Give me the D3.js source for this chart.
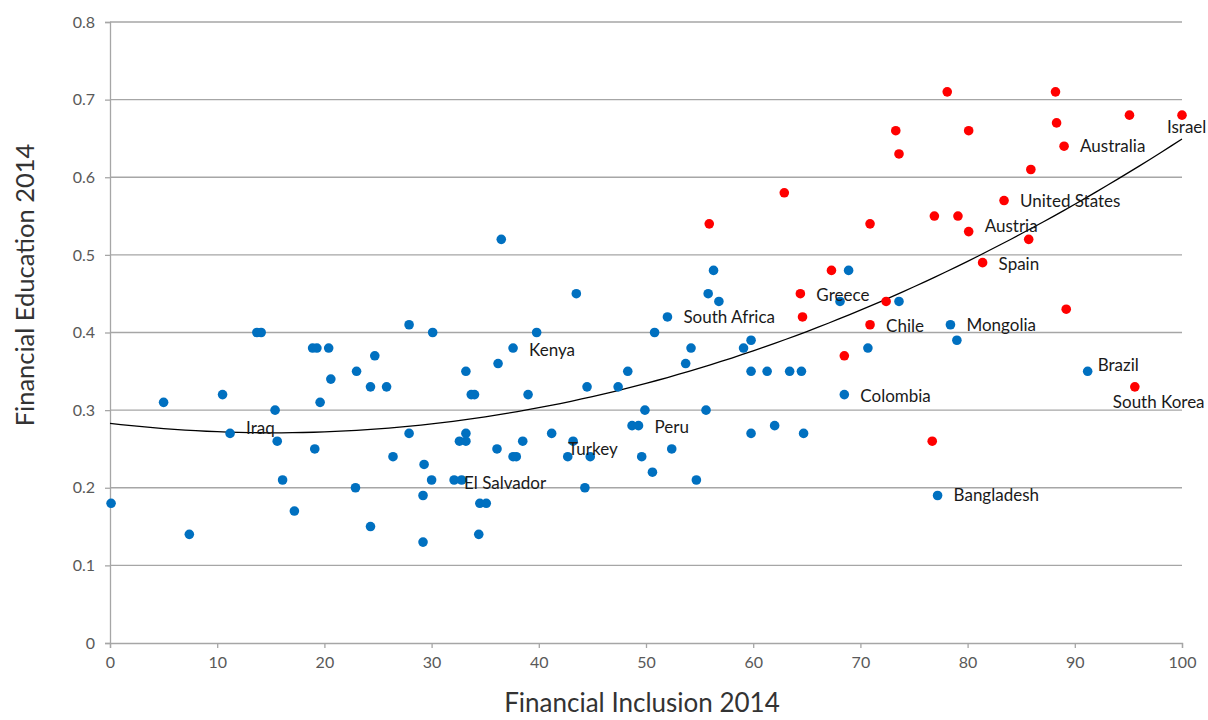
<!DOCTYPE html>
<html>
<head>
<meta charset="utf-8">
<script src="https://cdn.jsdelivr.net/npm/d3@7"></script>
<style>
  body { margin: 0; background: #fff; }
  svg { display: block; font-family: Lato, "Open Sans", sans-serif; }
</style>
</head>
<body>
<svg id="chart" width="1208" height="720"></svg>
<script>
// blue group: [financial inclusion, financial education]
var bluePoints = [
  [0.1,0.18],[5.0,0.31],[7.4,0.14],[10.5,0.32],[11.2,0.27],[13.7,0.40],[14.1,0.40],
  [15.4,0.30],[15.6,0.26],[16.1,0.21],[17.2,0.17],[18.9,0.38],[19.3,0.38],[19.1,0.25],
  [19.6,0.31],[20.4,0.38],[20.6,0.34],[23.0,0.35],[22.9,0.20],[24.3,0.33],[24.3,0.15],
  [24.7,0.37],[25.8,0.33],[26.4,0.24],[27.9,0.41],[27.9,0.27],[29.3,0.23],[29.2,0.19],
  [29.2,0.13],[30.1,0.40],[30.0,0.21],[32.1,0.21],[32.6,0.26],[32.8,0.21],[33.2,0.35],
  [33.2,0.27],[33.2,0.26],[33.7,0.32],[34.0,0.32],[34.5,0.18],[35.1,0.18],[34.4,0.14],
  [36.1,0.25],[36.2,0.36],[36.5,0.52],[37.6,0.38],[37.6,0.24],[37.9,0.24],[38.5,0.26],
  [39.0,0.32],[39.8,0.40],[41.2,0.27],[43.5,0.45],[43.2,0.26],[42.7,0.24],[44.8,0.24],
  [44.3,0.20],[44.5,0.33],[47.4,0.33],[48.3,0.35],[48.7,0.28],[49.3,0.28],[49.9,0.30],
  [49.6,0.24],[50.6,0.22],[50.8,0.40],[52.0,0.42],[52.4,0.25],[53.7,0.36],[54.2,0.38],
  [54.7,0.21],[55.6,0.30],[55.8,0.45],[56.3,0.48],[56.8,0.44],[59.1,0.38],[59.8,0.39],
  [59.8,0.35],[59.8,0.27],[61.3,0.35],[62.0,0.28],[63.4,0.35],[64.5,0.35],[64.7,0.27],
  [68.1,0.44],[68.5,0.32],[68.9,0.48],[70.7,0.38],[73.6,0.44],[78.4,0.41],[79.0,0.39],
  [77.2,0.19],[91.2,0.35]
];

// red group
var redPoints = [
  [55.9,0.54],[62.9,0.58],[64.4,0.45],[64.6,0.42],[67.3,0.48],[68.5,0.37],[70.9,0.54],
  [70.9,0.41],[72.4,0.44],[73.3,0.66],[73.6,0.63],[76.7,0.26],[76.9,0.55],[78.1,0.71],
  [79.1,0.55],[80.1,0.66],[80.1,0.53],[81.4,0.49],[83.4,0.57],[85.7,0.52],[85.9,0.61],
  [88.2,0.71],[88.3,0.67],[89.0,0.64],[89.2,0.43],[95.1,0.68],[100,0.68],[95.6,0.33]
];

var labelNames  = ["Iraq","El Salvador","Kenya","Turkey","Peru","South Africa","Colombia",
                   "Mongolia","Bangladesh","Brazil","Greece","Chile","Austria","Spain",
                   "United States","Australia","Israel","South Korea"];
var labelGroups = ["blue","blue","blue","blue","blue","blue","blue",
                   "blue","blue","blue","red","red","red","red",
                   "red","red","red","red"];
var labelIndex  = [4,31,45,53,61,66,85,89,91,92,2,7,16,17,18,23,26,27];

var xTicks = d3.range(0, 101, 10);
var yTicks = d3.range(0, 0.81, 0.1);

// label offsets from the point, px
var labelOffsets = {
  "Iraq":[16,-5], "El Salvador":[10,3], "Kenya":[16,2], "Turkey":[-5,8], "Peru":[16,1],
  "South Africa":[16,0], "Colombia":[16,1], "Mongolia":[16,0], "Bangladesh":[16,0],
  "Brazil":[10,-6], "Greece":[16,1], "Chile":[16,1], "Austria":[16,-6], "Spain":[16,1],
  "United States":[16,1], "Australia":[16,0], "Israel":[-15,12], "South Korea":[-22,15]
};

var svg = d3.select("#chart");
var margin = {left: 110, right: 26, top: 22, bottom: 77};
var W = 1208, H = 720;

var x = d3.scaleLinear().domain([0, 100]).range([margin.left, W - margin.right]);
var y = d3.scaleLinear().domain([0, 0.8]).range([H - margin.bottom, margin.top]);

// gridlines
svg.append("g").selectAll("line").data(yTicks.slice(1)).join("line")
  .attr("x1", x(0)).attr("x2", x(100))
  .attr("y1", d => y(d)).attr("y2", d => y(d))
  .attr("stroke", "#a6a6a6").attr("stroke-width", 1.3);

// y axis
var yAxis = svg.append("g").attr("transform", "translate(" + x(0) + ",0)")
  .call(d3.axisLeft(y).tickValues(yTicks).tickFormat(d => d === 0 ? "0" : d3.format(".1f")(d)).tickSize(5).tickPadding(10));
yAxis.select(".domain").attr("stroke", "#a6a6a6").attr("stroke-width", 1.3);
yAxis.selectAll(".tick line").attr("stroke", "#a6a6a6").attr("stroke-width", 1.3);
yAxis.selectAll("text").attr("font-size", 16).attr("fill", "#595959").attr("font-family", "Lato");

// x axis
var xAxis = svg.append("g").attr("transform", "translate(0," + y(0) + ")")
  .call(d3.axisBottom(x).tickValues(xTicks).tickSize(5).tickPadding(9));
xAxis.select(".domain").attr("stroke", "#a6a6a6").attr("stroke-width", 1.3);
xAxis.selectAll(".tick line").attr("stroke", "#a6a6a6").attr("stroke-width", 1.3);
xAxis.selectAll("text").attr("font-size", 16).attr("fill", "#595959").attr("font-family", "Lato");

// quadratic trend (least squares over all points)
function polyFit2(pts) {
  var s = [0,0,0,0,0], t = [0,0,0];
  pts.forEach(function(p) {
    var xi = p[0], yi = p[1];
    for (var k = 0; k < 5; k++) s[k] += Math.pow(xi, k);
    for (var k2 = 0; k2 < 3; k2++) t[k2] += yi * Math.pow(xi, k2);
  });
  var A = [[s[0],s[1],s[2],t[0]],[s[1],s[2],s[3],t[1]],[s[2],s[3],s[4],t[2]]];
  for (var i = 0; i < 3; i++) {
    for (var j = i + 1; j < 3; j++) {
      var f = A[j][i] / A[i][i];
      for (var c = i; c < 4; c++) A[j][c] -= f * A[i][c];
    }
  }
  var r = [0,0,0];
  for (var i2 = 2; i2 >= 0; i2--) {
    var v = A[i2][3];
    for (var c2 = i2 + 1; c2 < 3; c2++) v -= A[i2][c2] * r[c2];
    r[i2] = v / A[i2][i2];
  }
  return r;
}
var coef = polyFit2(bluePoints.concat(redPoints));
var trend = d3.range(0, 100.5, 1).map(d => [d, coef[0] + coef[1] * d + coef[2] * d * d]);
svg.append("path").datum(trend)
  .attr("fill", "none").attr("stroke", "#000").attr("stroke-width", 1.3)
  .attr("d", d3.line().x(d => x(d[0])).y(d => y(d[1])));

// points
svg.append("g").selectAll("circle").data(bluePoints).join("circle")
  .attr("cx", d => x(d[0])).attr("cy", d => y(d[1])).attr("r", 4.8).attr("fill", "#0070c0");
svg.append("g").selectAll("circle").data(redPoints).join("circle")
  .attr("cx", d => x(d[0])).attr("cy", d => y(d[1])).attr("r", 4.8).attr("fill", "#ff0000");

// country labels
svg.append("g").selectAll("text").data(labelNames).join("text")
  .attr("x", (d, i) => {
    var p = (labelGroups[i] === "blue" ? bluePoints : redPoints)[labelIndex[i]];
    return x(p[0]) + labelOffsets[d][0];
  })
  .attr("y", (d, i) => {
    var p = (labelGroups[i] === "blue" ? bluePoints : redPoints)[labelIndex[i]];
    return y(p[1]) + labelOffsets[d][1];
  })
  .attr("dy", "0.35em")
  .attr("font-size", 17).attr("fill", "#1a1a1a")
  .text(d => d);

// axis titles
svg.append("text").attr("x", x(50) - 4).attr("y", 712)
  .attr("text-anchor", "middle").attr("font-size", 26).attr("fill", "#333")
  .text("Financial Inclusion 2014");
svg.append("text").attr("transform", "translate(34,285) rotate(-90)")
  .attr("text-anchor", "middle").attr("font-size", 25.5).attr("fill", "#333")
  .text("Financial Education 2014");
</script>
</body>
</html>
